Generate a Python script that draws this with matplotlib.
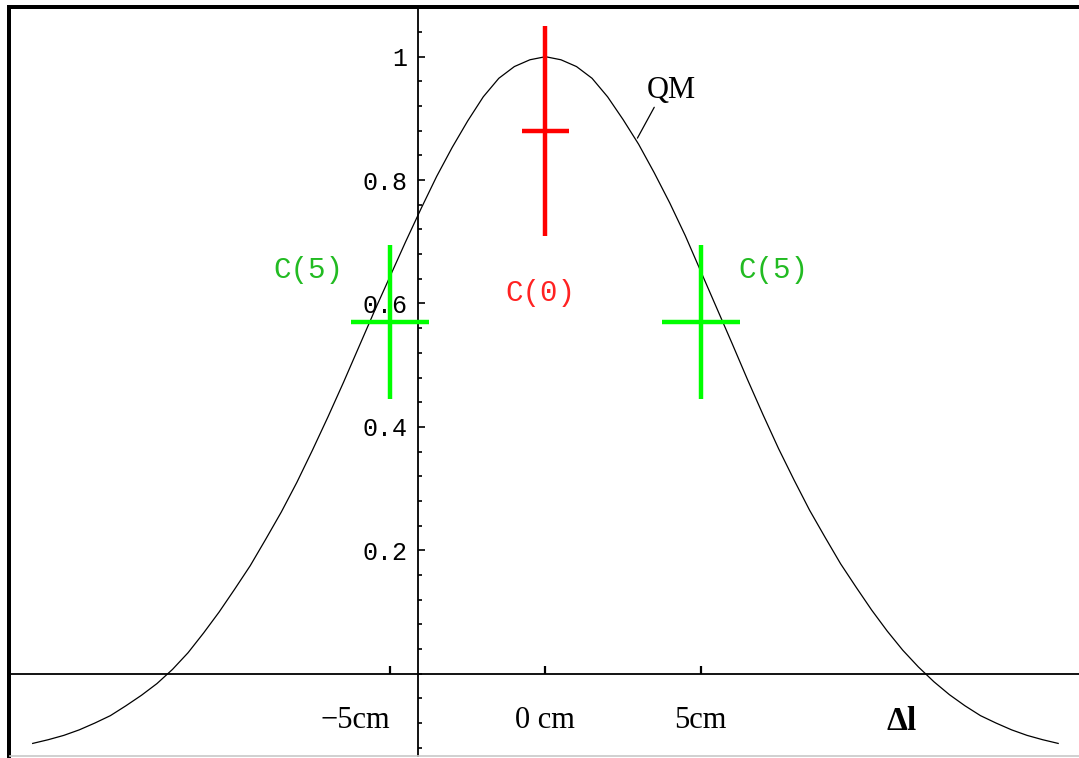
import matplotlib
matplotlib.use("Agg")
import matplotlib.pyplot as plt
from matplotlib.patches import Rectangle
from matplotlib.lines import Line2D
from matplotlib.ticker import FixedLocator, MultipleLocator

# QM curve (delta l in cm, correlation)
qm_x = [-16.5, -16.0, -15.5, -15.0, -14.5, -14.0, -13.5, -13.0, -12.5, -12.0,
        -11.5, -11.0, -10.5, -10.0, -9.5, -9.0, -8.5, -8.0, -7.5, -7.0,
        -6.5, -6.0, -5.5, -5.0, -4.5, -4.0, -3.5, -3.0, -2.5, -2.0,
        -1.5, -1.0, -0.5, 0.0, 0.5, 1.0, 1.5, 2.0, 2.5, 3.0,
        3.5, 4.0, 4.5, 5.0, 5.5, 6.0, 6.5, 7.0, 7.5, 8.0,
        8.5, 9.0, 9.5, 10.0, 10.5, 11.0, 11.5, 12.0, 12.5, 13.0,
        13.5, 14.0, 14.5, 15.0, 15.5, 16.0, 16.5]
qm_y = [-0.113, -0.107, -0.100, -0.091, -0.080, -0.068, -0.052, -0.035, -0.016, 0.007,
        0.034, 0.066, 0.100, 0.137, 0.175, 0.218, 0.262, 0.310, 0.362, 0.416,
        0.472, 0.530, 0.588, 0.644, 0.700, 0.754, 0.806, 0.853, 0.896, 0.935,
        0.965, 0.984, 0.995, 1.000, 0.995, 0.984, 0.965, 0.935, 0.898, 0.858,
        0.812, 0.763, 0.710, 0.652, 0.594, 0.536, 0.477, 0.420, 0.365, 0.314,
        0.265, 0.221, 0.178, 0.140, 0.103, 0.069, 0.038, 0.011, -0.013, -0.034,
        -0.052, -0.068, -0.080, -0.091, -0.100, -0.107, -0.113]

# measured points with error crosses
c0_x = [0.0]
c0_y = [0.88]
c0_xerr = [0.75]
c0_yerr = [0.17]

c5_x = [-5.0, 5.0]
c5_y = [0.57, 0.57]
c5_xerr = [1.25, 1.25]
c5_yerr = [0.125, 0.125]

x_ticks = [-5, 0, 5]
x_labels = ["\u22125cm", "0 cm", "5cm"]
y_ticks = [0.2, 0.4, 0.6, 0.8, 1.0]
y_labels = ["0.2", "0.4", "0.6", "0.8", "1"]

W, H = 1079, 758
fig = plt.figure(figsize=(W / 100, H / 100), dpi=100)
fig.patch.set_facecolor("white")
ax = fig.add_axes([10 / W, 2 / H, 1069 / W, 747 / H])
ax.set_facecolor("white")

ax.set_xlim(-17.23, 17.17)
ax.set_ylim(-0.1334, 1.0773)

# Mathematica style axes crossing inside the plot
for s in ["top", "right"]:
    ax.spines[s].set_visible(False)
ax.spines["left"].set_position(("data", -4.09))
ax.spines["bottom"].set_position(("data", 0))
ax.spines["left"].set_linewidth(1.3)
ax.spines["bottom"].set_linewidth(1.3)

ax.xaxis.set_major_locator(FixedLocator(x_ticks))
ax.set_xticklabels(x_labels, fontfamily="Liberation Serif", fontsize=22)
ax.tick_params(axis="x", direction="in", length=6, width=1.6, pad=23)
ax.get_xticklabels()[0].set_horizontalalignment("right")
ax.get_xticklabels()[0].set_x(-4.85)

ax.yaxis.set_major_locator(FixedLocator(y_ticks))
ax.yaxis.set_minor_locator(MultipleLocator(0.04))
ax.set_yticklabels(y_labels, fontfamily="Liberation Mono", fontsize=18)
ax.tick_params(axis="y", which="major", direction="in", length=5, width=1.2, pad=8)
ax.tick_params(axis="y", which="minor", direction="in", length=3, width=1.2)

# curve
ax.plot(qm_x, qm_y, color="black", lw=0.9)

# crosses
ax.errorbar(c0_x, c0_y, xerr=c0_xerr, yerr=c0_yerr, fmt="none",
            ecolor="#ff0000", elinewidth=3.2, capsize=0, zorder=3)
ax.errorbar(c5_x, c5_y, xerr=c5_xerr, yerr=c5_yerr, fmt="none",
            ecolor="#00ff00", elinewidth=3.2, capsize=0, zorder=3)

# text labels
mono = "Liberation Mono"
ax.text(-7.64, 0.654, "C(5)", color="#22bb22", fontfamily=mono, fontsize=21,
        ha="center", va="center")
ax.text(7.33, 0.654, "C(5)", color="#22bb22", fontfamily=mono, fontsize=21,
        ha="center", va="center")
ax.text(-0.16, 0.617, "C(0)", color="#ff2222", fontfamily=mono, fontsize=21,
        ha="center", va="center")
ax.annotate("QM", xy=(2.96, 0.868), xytext=(4.05, 0.946),
            fontfamily="Liberation Serif", fontsize=22, ha="center", va="center",
            arrowprops=dict(arrowstyle="-", lw=0.9, color="black",
                            shrinkA=0, shrinkB=0, relpos=(0.2, 0.05)))
ax.text(11.45, -0.078, "\u0394l", fontfamily="Liberation Serif", fontweight="bold",
        fontsize=24, ha="center", va="center")

# window frame around the plot
fig.add_artist(Rectangle((7 / W, (H - 9) / H), 1 - 7 / W, 4 / H,
                         transform=fig.transFigure, color="black", lw=0))
fig.add_artist(Rectangle((7 / W, 0), 3.5 / W, (H - 5) / H,
                         transform=fig.transFigure, color="black", lw=0))
fig.add_artist(Line2D([10 / W, 1], [2 / H, 2 / H], transform=fig.transFigure,
                      color="#c8c8c8", lw=1.2))

fig.savefig("out.png", dpi=100)
